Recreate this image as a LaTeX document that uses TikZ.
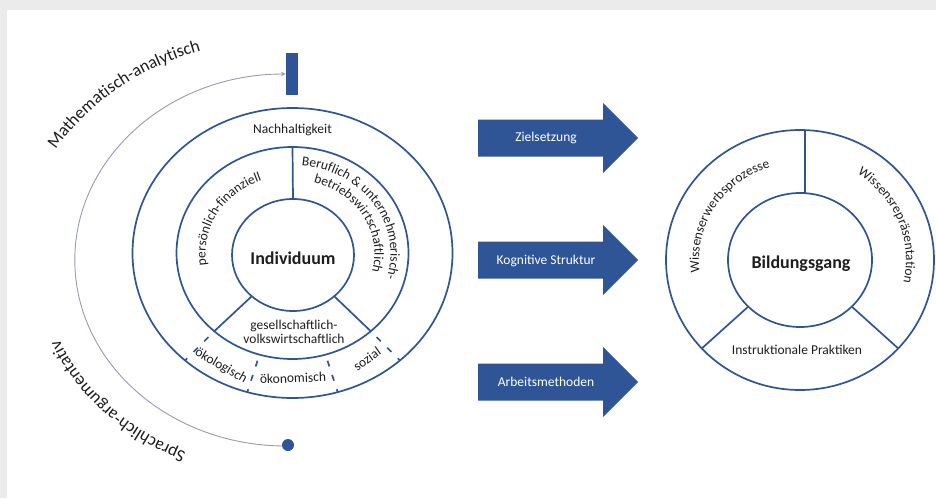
\documentclass[tikz,border=0pt]{standalone}
\usepackage{fontspec}
\setmainfont{Carlito}
\usetikzlibrary{decorations.text,arrows.meta,shapes.geometric,calc}
\definecolor{dblue}{RGB}{47,85,151}
\definecolor{bggrey}{RGB}{235,235,235}
\definecolor{arcgrey}{RGB}{150,156,178}
\definecolor{ink}{RGB}{30,30,30}
\newcommand{\rfont}{\fontsize{13.5}{15}\selectfont}
\newcommand{\bigfont}{\fontsize{17.5}{20}\selectfont}
\newcommand{\boldfont}{\fontsize{18}{20}\selectfont\bfseries}
\begin{document}
\begin{tikzpicture}[x=1pt,y=1pt,
  ring/.style={draw=dblue, line width=1.7pt, ellipse, inner sep=0pt, outer sep=0pt},
  spoke/.style={draw=dblue, line width=1.7pt},
  dashspoke/.style={spoke, dash pattern=on 6pt off 9pt, dash phase=3pt},
  lbl/.style={font=\rfont, text=ink, inner sep=0pt},
  boldlbl/.style={font=\boldfont, text=ink, inner sep=0pt},
  arrowlbl/.style={font=\rfont, text=white, inner sep=0pt},
  curved/.style={decorate, decoration={text along path, text align=center, text color=ink, text={#1}}},
  blockarrow/.style={fill=dblue},
  arcline/.style={draw=arcgrey, line width=0.9pt}
]
\useasboundingbox (0,0) rectangle (936,-498);
\fill[bggrey] (0,0) rectangle (936,-498);
\fill[white] (7,-10) rectangle (936,-498);

% ---------- left diagram ----------
\coordinate (L) at (292.5,-253);
\node[ring, minimum width=320pt, minimum height=290pt] (outer) at (L) {};
\node[ring, minimum width=232pt, minimum height=212pt] (mid) at (L) {};
\node[ring, minimum width=122pt, minimum height=112pt] (indiv) at (293,-255) {};

\draw[spoke] (mid.north) -- (indiv.north);
\draw[spoke] (indiv.225) -- (mid.225);
\draw[spoke] (indiv.315) -- (mid.315);
\draw[dashspoke] (outer.225) -- (mid.225);
\draw[dashspoke] (outer.252) -- (mid.252);
\draw[dashspoke] (outer.288) -- (mid.288);
\draw[dashspoke] (outer.315) -- (mid.315);

\node[lbl] (nach) at (292.5,-130) {Nachhaltigkeit};
\node[boldlbl] (indivtxt) at (293,-258) {Individuum};
\node[lbl, font=\fontsize{13.5}{14}\selectfont, align=center] (gesell) at (294,-332) {gesellschaftlich-\\volkswirtschaftlich};
\node[lbl, rotate=-30] (oeko) at (221,-366) {ökologisch};
\node[lbl, rotate=2] (oekon) at (293,-378) {ökonomisch};
\node[lbl, rotate=35] (sozial) at (367,-359) {sozial};

\path[curved={|\rfont|persönlich-finanziell}] (292.5,-254) ++(205:87 and 79) arc[start angle=205, end angle=95, x radius=87, y radius=79];
\path[curved={|\rfont|Beruflich {\&} unternehmerisch-}] (292.5,-254) ++(92:98 and 89) arc[start angle=92, end angle=-24, x radius=98, y radius=89];
\path[curved={|\rfont|betriebswirtschaftlich}] (292.5,-254) ++(90:82 and 74) arc[start angle=90, end angle=-30, x radius=82, y radius=74];

% grey arc with bar and dot
\node[fill=dblue, minimum width=12pt, minimum height=42pt, inner sep=0pt] (bar) at (292,-74) {};
\draw[arcline, {Stealth[length=5pt,width=4.5pt]}-] (bar.west) arc[start angle=90, end angle=270, x radius=211, y radius=186];
\node[circle, fill=dblue, minimum size=12pt, inner sep=0pt] (dot) at (288,-445) {};

\path[curved={|\bigfont|Mathematisch-analytisch}] (286,-259) ++(171:265 and 220) arc[start angle=171, end angle=91, x radius=265, y radius=220];
\path[curved={|\bigfont|Sprachlich-argumentativ}] (286,-259) ++(263:245 and 212) arc[start angle=263, end angle=183, x radius=245, y radius=212];

% ---------- block arrows ----------
\fill[blockarrow] (478,-119.5) -- (603,-119.5) -- (603,-103) -- (638,-138) -- (603,-173) -- (603,-156.5) -- (478,-156.5) -- cycle;
\fill[blockarrow] (478,-241.5) -- (603,-241.5) -- (603,-225) -- (638,-260) -- (603,-295) -- (603,-278.5) -- (478,-278.5) -- cycle;
\fill[blockarrow] (478,-363.5) -- (603,-363.5) -- (603,-347) -- (638,-382) -- (603,-417) -- (603,-400.5) -- (478,-400.5) -- cycle;
\node[arrowlbl] (ziel) at (546,-138) {Zielsetzung};
\node[arrowlbl] (kogn) at (546,-261) {Kognitive Struktur};
\node[arrowlbl] (arbeit) at (546,-382) {Arbeitsmethoden};

% ---------- right diagram ----------
\coordinate (R) at (800,-260);
\node[ring, minimum width=268pt, minimum height=260pt] (rout) at (R) {};
\node[ring, minimum width=144pt, minimum height=134pt] (bildung) at (R) {};
\draw[spoke] ([xshift=5pt]rout.north) -- ([xshift=5pt]bildung.north);
\draw[spoke] (bildung.222) -- (rout.222);
\draw[spoke] (bildung.318) -- (rout.318);
\node[boldlbl] (btxt) at (801,-264) {Bildungsgang};
\node[lbl] (instr) at (797,-350) {Instruktionale Praktiken};
\path[curved={|\rfont|Wissenserwerbsprozesse}] (R) ++(200:101 and 97) arc[start angle=200, end angle=95, x radius=101, y radius=97];
\path[curved={|\rfont|Wissensrepräsentation}] (R) ++(72:106 and 102) arc[start angle=72, end angle=-28, x radius=106, y radius=102];
\end{tikzpicture}
\end{document}
